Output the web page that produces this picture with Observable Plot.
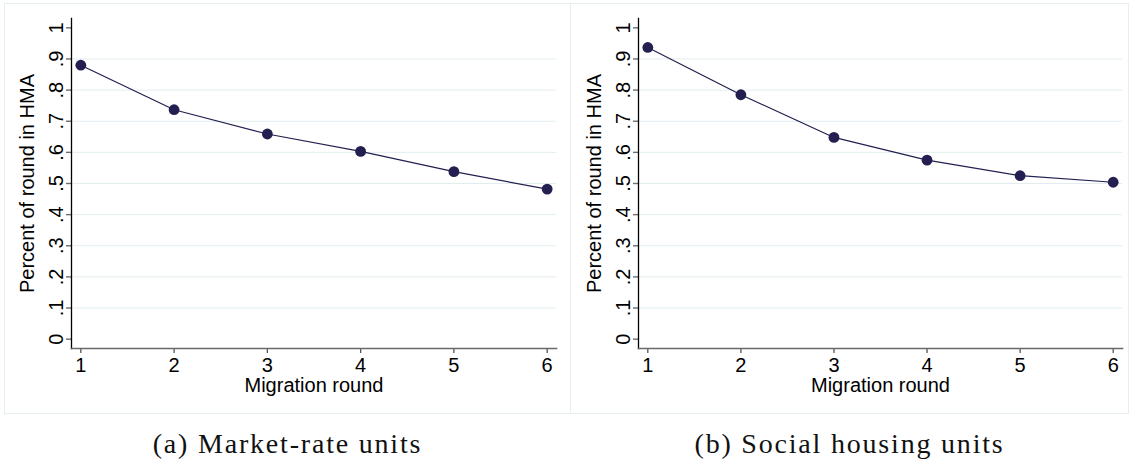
<!DOCTYPE html>
<html>
<head>
<meta charset="utf-8">
<script src="https://cdn.jsdelivr.net/npm/d3@7"></script>
<script src="https://cdn.jsdelivr.net/npm/@observablehq/plot@0.6"></script>
<style>
  html, body { margin: 0; padding: 0; background: #fff; }
  #wrap { position: relative; width: 1129px; height: 461px; overflow: hidden; }
  .panel { position: absolute; box-sizing: border-box; border: 1px solid #e6eef0; background: #fff; }
  .panel svg { display: block; }
  .cap { position: absolute; text-align: center; font-family: "Liberation Serif", "Times New Roman", serif;
         font-size: 28px; line-height: 28px; letter-spacing: 1.8px; color: #111; white-space: nowrap; }
</style>
</head>
<body>
<div id="wrap">
  <div class="panel" id="p1" style="left:4px; top:3px; width:567px; height:411px;"></div>
  <div class="panel" id="p2" style="left:570px; top:3px; width:559px; height:411px;"></div>
  <div class="cap" id="c1" style="left:4px; width:567px; top:430px;"></div>
  <div class="cap" id="c2" style="left:570px; width:559px; top:430px;"></div>
</div>
<script>
// ---- data ----
const rounds = [1, 2, 3, 4, 5, 6];
const marketRate = [0.880, 0.737, 0.659, 0.603, 0.538, 0.482];
const socialHousing = [0.937, 0.785, 0.648, 0.575, 0.525, 0.504];
const yTicks = [0, 0.1, 0.2, 0.3, 0.4, 0.5, 0.6, 0.7, 0.8, 0.9, 1];
const yTickLabels = ["0", ".1", ".2", ".3", ".4", ".5", ".6", ".7", ".8", ".9", "1"];
const xTicks = [1, 2, 3, 4, 5, 6];
const xLabel = "Migration round";
const yLabel = "Percent of round in HMA";
const captions = ["(a) Market-rate units", "(b) Social housing units"];

const ink = "#231f50";

function panel(values, width, marginLeft, marginRight) {
  const data = rounds.map((r, i) => ({round: r, share: values[i]}));
  return Plot.plot({
    width,
    height: 409,
    marginLeft,
    marginRight,
    marginTop: 14,
    marginBottom: 65,
    style: {fontFamily: "'Liberation Sans', Arial, sans-serif", fontSize: "20px", background: "white", color: "#000"},
    x: {domain: [0.9, 6.1]},
    y: {domain: [-0.03, 1.03]},
    marks: [
      Plot.gridY(yTicks.slice(1, -1), {stroke: "#e3edf0", strokeOpacity: 1, strokeWidth: 1}),
      Plot.axisY(yTicks, {
        tickSize: 5, text: null,
        stroke: "#6e6e6e", strokeWidth: 1.4, label: null
      }),
      Plot.text(yTicks, {
        y: d => d, frameAnchor: "left", dx: -9, rotate: -90,
        textAnchor: "middle", lineAnchor: "bottom",
        text: d => yTickLabels[yTicks.indexOf(d)], fontSize: 20, fill: "#000"
      }),
      Plot.axisX(xTicks, {
        tickSize: 5, tickPadding: 4, tickFormat: d => String(d),
        stroke: "#555", strokeWidth: 1.3, fill: "#000", label: null, fontSize: 20
      }),
      Plot.frame({anchor: "left", stroke: "#000", strokeWidth: 1.3}),
      Plot.frame({anchor: "bottom", stroke: "#6a6a6a", strokeWidth: 1.6}),
      Plot.line(data, {x: "round", y: "share", stroke: ink, strokeWidth: 1.2}),
      Plot.dot(data, {x: "round", y: "share", r: 5.4, fill: ink, stroke: "none"}),
      Plot.text([yLabel], {frameAnchor: "left", rotate: -90, dx: -44, textAnchor: "middle", lineAnchor: "middle",
        text: d => d, fontSize: 20, fill: "#000"}),
      Plot.text([xLabel], {frameAnchor: "bottom", dy: 43, textAnchor: "middle", lineAnchor: "bottom",
        text: d => d, fontSize: 20, fill: "#000"})
    ]
  });
}

document.getElementById("p1").append(panel(marketRate, 565, 66, 14));
document.getElementById("p2").append(panel(socialHousing, 557, 67, 6));
document.getElementById("c1").textContent = captions[0];
document.getElementById("c2").textContent = captions[1];
</script>
</body>
</html>
